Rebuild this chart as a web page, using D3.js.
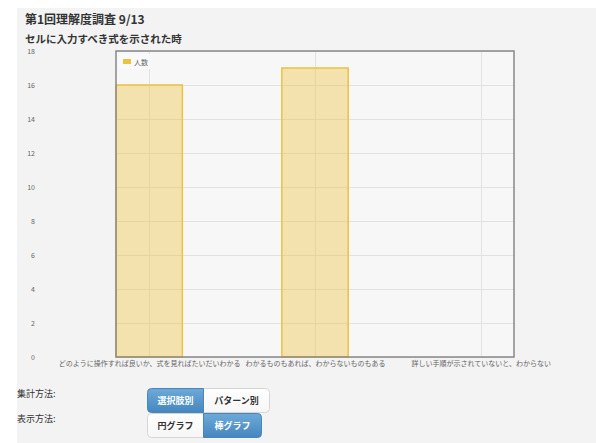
<!DOCTYPE html>
<html>
<head>
<meta charset="utf-8">
<script src="https://cdn.jsdelivr.net/npm/d3@7"></script>
<style>
  body { margin: 0; background: #fff; }
  svg text { font-family: "Noto Sans CJK JP", "Noto Sans", sans-serif; }
</style>
</head>
<body>
<script>
// chart data
const title = "第1回理解度調査 9/13";
const subtitle = "セルに入力すべき式を示された時";
const seriesName = "人数";
const categories = [
  "どのように操作すれば良いか、式を見ればたいだいわかる",
  "わかるものもあれば、わからないものもある",
  "詳しい手順が示されていないと、わからない"
];
const counts = [16, 17, 0];
const yTicks = [0, 2, 4, 6, 8, 10, 12, 14, 16, 18];
const aggLabel = "集計方法:";
const aggButtons = ["選択肢別", "パターン別"];
const viewLabel = "表示方法:";
const viewButtons = ["円グラフ", "棒グラフ"];

const W = 596, H = 443;
const plot = {left: 116, right: 514, top: 51, bottom: 357};

const svg = d3.select("body").append("svg")
  .attr("width", W).attr("height", H);

const defs = svg.append("defs");
const grad = defs.append("linearGradient").attr("id", "blue")
  .attr("x1", 0).attr("y1", 0).attr("x2", 0).attr("y2", 1);
grad.append("stop").attr("offset", "0%").attr("stop-color", "#6daad8");
grad.append("stop").attr("offset", "100%").attr("stop-color", "#4586bf");
const wgrad = defs.append("linearGradient").attr("id", "white")
  .attr("x1", 0).attr("y1", 0).attr("x2", 0).attr("y2", 1);
wgrad.append("stop").attr("offset", "0%").attr("stop-color", "#ffffff");
wgrad.append("stop").attr("offset", "100%").attr("stop-color", "#f6f6f6");

// page panel
svg.append("rect").attr("x", 17).attr("y", 8)
  .attr("width", W - 17).attr("height", H - 8).attr("fill", "#f3f3f3");

svg.append("text").attr("x", 25).attr("y", 24)
  .attr("font-size", 12).attr("font-weight", "bold").attr("fill", "#333")
  .text(title);
svg.append("text").attr("x", 25).attr("y", 43)
  .attr("font-size", 10.5).attr("font-weight", "bold").attr("fill", "#333")
  .text(subtitle);

// scales
const x = d3.scaleLinear().domain([-0.2, 2.2]).range([plot.left, plot.right]);
const y = d3.scaleLinear().domain([0, 18]).range([plot.bottom, plot.top]);

svg.append("rect").attr("x", plot.left).attr("y", plot.top)
  .attr("width", plot.right - plot.left).attr("height", plot.bottom - plot.top)
  .attr("fill", "#f7f7f7");

// grid
const grid = svg.append("g").attr("stroke", "#e2e2e2").attr("stroke-width", 1);
grid.selectAll("line.h").data(yTicks).enter().append("line")
  .attr("x1", plot.left).attr("x2", plot.right)
  .attr("y1", d => y(d) + 0.5).attr("y2", d => y(d) + 0.5);
grid.selectAll("line.v").data(categories).enter().append("line")
  .attr("x1", (d, i) => Math.round(x(i)) + 0.5).attr("x2", (d, i) => Math.round(x(i)) + 0.5)
  .attr("y1", plot.top).attr("y2", plot.bottom);

// bars
svg.append("g").selectAll("rect").data(counts).enter().append("rect")
  .attr("x", (d, i) => x(i - 0.2))
  .attr("width", (d, i) => x(i + 0.2) - x(i - 0.2))
  .attr("y", d => y(d))
  .attr("height", d => y(0) - y(d))
  .attr("fill", "rgba(237,194,64,0.4)")
  .attr("stroke", "#edc240").attr("stroke-width", 1.5);

// plot border
svg.append("rect").attr("x", plot.left).attr("y", plot.top)
  .attr("width", plot.right - plot.left).attr("height", plot.bottom - plot.top)
  .attr("fill", "none").attr("stroke", "#888").attr("stroke-width", 1.5);

// y axis labels
const yAxis = svg.append("g").attr("transform", "translate(35,0)")
  .call(d3.axisLeft(y).tickValues(yTicks).tickSize(0).tickPadding(0));
yAxis.select(".domain").remove();
yAxis.selectAll("text").attr("font-size", 7).attr("fill", "#666")
  .attr("font-family", "\"Noto Sans CJK JP\", sans-serif");

// x axis labels
const xAxis = svg.append("g").attr("transform", `translate(0,${plot.bottom + 2})`)
  .call(d3.axisBottom(x).tickValues([0, 1, 2]).tickSize(0).tickPadding(2)
    .tickFormat(i => categories[i]));
xAxis.select(".domain").remove();
xAxis.selectAll("text").attr("font-size", 7).attr("fill", "#666")
  .attr("font-family", "\"Noto Sans CJK JP\", sans-serif");

// legend
const lg = svg.append("g").attr("transform", `translate(${plot.left + 3},${plot.top + 3})`);
lg.append("rect").attr("width", 32).attr("height", 15).attr("fill", "#fafafa").attr("opacity", 0.85);
lg.append("rect").attr("x", 4).attr("y", 5).attr("width", 8).attr("height", 5).attr("fill", "#edc240");
lg.append("text").attr("x", 15).attr("y", 10.5).attr("font-size", 7).attr("fill", "#666").text(seriesName);

// controls
function buttonGroup(labels, active, gx, gy, widths) {
  const g = svg.append("g").attr("transform", `translate(${gx},${gy})`);
  let cx = 0;
  const total = d3.sum(widths);
  const h = 24;
  g.append("rect").attr("x", 0.5).attr("y", 0.5).attr("width", total).attr("height", h)
    .attr("rx", 4).attr("fill", "url(#white)").attr("stroke", "#d6d6d6");
  labels.forEach((t, i) => {
    const w = widths[i];
    if (i === active) {
      const path = d3.path();
      const r = 4, x0 = cx + 0.5, x1 = cx + w + 0.5, y0 = 0.5, y1 = h + 0.5;
      const rl = i === 0 ? r : 0, rr = i === labels.length - 1 ? r : 0;
      path.moveTo(x0 + rl, y0);
      path.lineTo(x1 - rr, y0);
      if (rr) path.arcTo(x1, y0, x1, y0 + rr, rr);
      path.lineTo(x1, y1 - rr);
      if (rr) path.arcTo(x1, y1, x1 - rr, y1, rr);
      path.lineTo(x0 + rl, y1);
      if (rl) path.arcTo(x0, y1, x0, y1 - rl, rl);
      path.lineTo(x0, y0 + rl);
      if (rl) path.arcTo(x0, y0, x0 + rl, y0, rl);
      path.closePath();
      g.append("path").attr("d", path.toString()).attr("fill", "url(#blue)").attr("stroke", "#4a86ba");
    }
    g.append("text").attr("x", cx + w / 2 + 0.5).attr("y", h / 2 + 3.5)
      .attr("text-anchor", "middle").attr("font-size", 9).attr("font-weight", "bold")
      .attr("fill", i === active ? "#fff" : "#333").text(t);
    cx += w;
  });
}

svg.append("text").attr("x", 17).attr("y", 397).attr("font-size", 9).attr("fill", "#333").text(aggLabel);
svg.append("text").attr("x", 17).attr("y", 422).attr("font-size", 9).attr("fill", "#333").text(viewLabel);
buttonGroup(aggButtons, 0, 147, 388, [56, 66]);
buttonGroup(viewButtons, 1, 147, 413, [56, 58]);
</script>
</body>
</html>
